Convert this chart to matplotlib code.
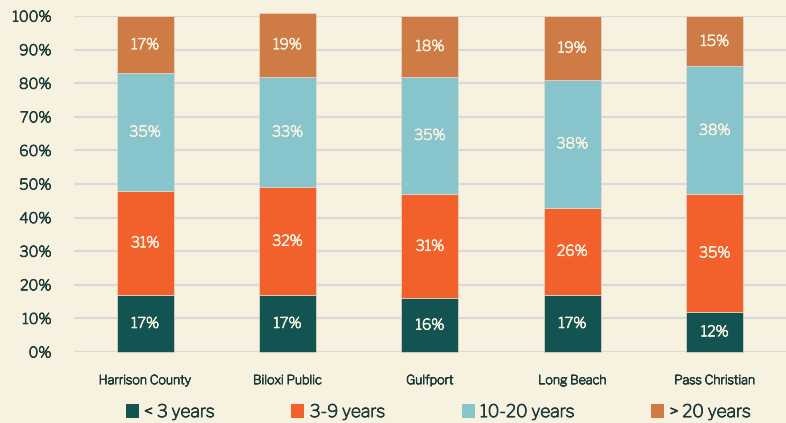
import numpy as np
import matplotlib
matplotlib.use('Agg')
import matplotlib.pyplot as plt
import matplotlib.patheffects as pe
from matplotlib.patches import Patch

plt.rcParams['font.family'] = ['Libre Franklin', 'DejaVu Sans']

# data (percent of teachers by years of experience)
districts = ['Harrison County', 'Biloxi Public', 'Gulfport', 'Long Beach', 'Pass Christian']
series_names = ['< 3 years', '3-9 years', '10-20 years', '> 20 years']
under_3 = [17, 17, 16, 17, 12]
yrs_3_9 = [31, 32, 31, 26, 35]
yrs_10_20 = [35, 33, 35, 38, 38]
over_20 = [17, 19, 18, 19, 15]

colors = ['#135352', '#F2602B', '#88C4CB', '#CF7B45']
bg = '#F7F1E0'
text_dark = '#1E3B3B'
thick = [pe.Stroke(linewidth=0.6), pe.Normal()]

fig = plt.figure(figsize=(7.86, 4.23), dpi=100, facecolor=bg)
ax = fig.add_axes([0.094, 0.168, 0.906, 0.794], facecolor=bg)

x = np.arange(len(districts))
bottom = np.zeros(len(districts))
for vals, color in zip([under_3, yrs_3_9, yrs_10_20, over_20], colors):
    vals = np.array(vals, dtype=float)
    ax.bar(x, vals, 0.4, bottom=bottom, color=color,
           edgecolor='#E6DCCB', linewidth=0.5, clip_on=False, zorder=3)
    for xi, b, v in zip(x, bottom, vals):
        ax.text(xi, b + v / 2, f'{int(v)}%', ha='center', va='center',
                color='#F7F1E0', fontsize=10.5, zorder=4, path_effects=thick)
    bottom += vals

ax.set_xlim(-0.5, 4.5)
ax.set_ylim(0, 100)
ax.set_yticks(np.arange(0, 101, 10))
ax.set_yticklabels([f'{v}%' for v in range(0, 101, 10)])
ax.set_xticks(x)
ax.set_xticklabels(districts, fontsize=9)
ax.tick_params(axis='y', length=0, labelsize=10.5, colors=text_dark, pad=16)
ax.tick_params(axis='x', length=0, colors=text_dark, pad=16)
for lbl in ax.get_xticklabels() + ax.get_yticklabels():
    lbl.set_path_effects(thick)
ax.grid(axis='y', color='#D9D9D9', linewidth=1.6, zorder=0)
ax.set_axisbelow(True)
for s in ax.spines.values():
    s.set_visible(False)

handles = [Patch(facecolor=c, edgecolor='none') for c in colors]
leg = fig.legend(handles, series_names, loc='center', bbox_to_anchor=(0.558, 0.027),
                 ncol=4, frameon=False, fontsize=12.5, handlelength=0.75, handleheight=0.85,
                 handletextpad=0.3, columnspacing=4.4, labelcolor=text_dark)
for t in leg.get_texts():
    t.set_path_effects(thick)

fig.savefig('out.png', dpi=100, facecolor=bg)
